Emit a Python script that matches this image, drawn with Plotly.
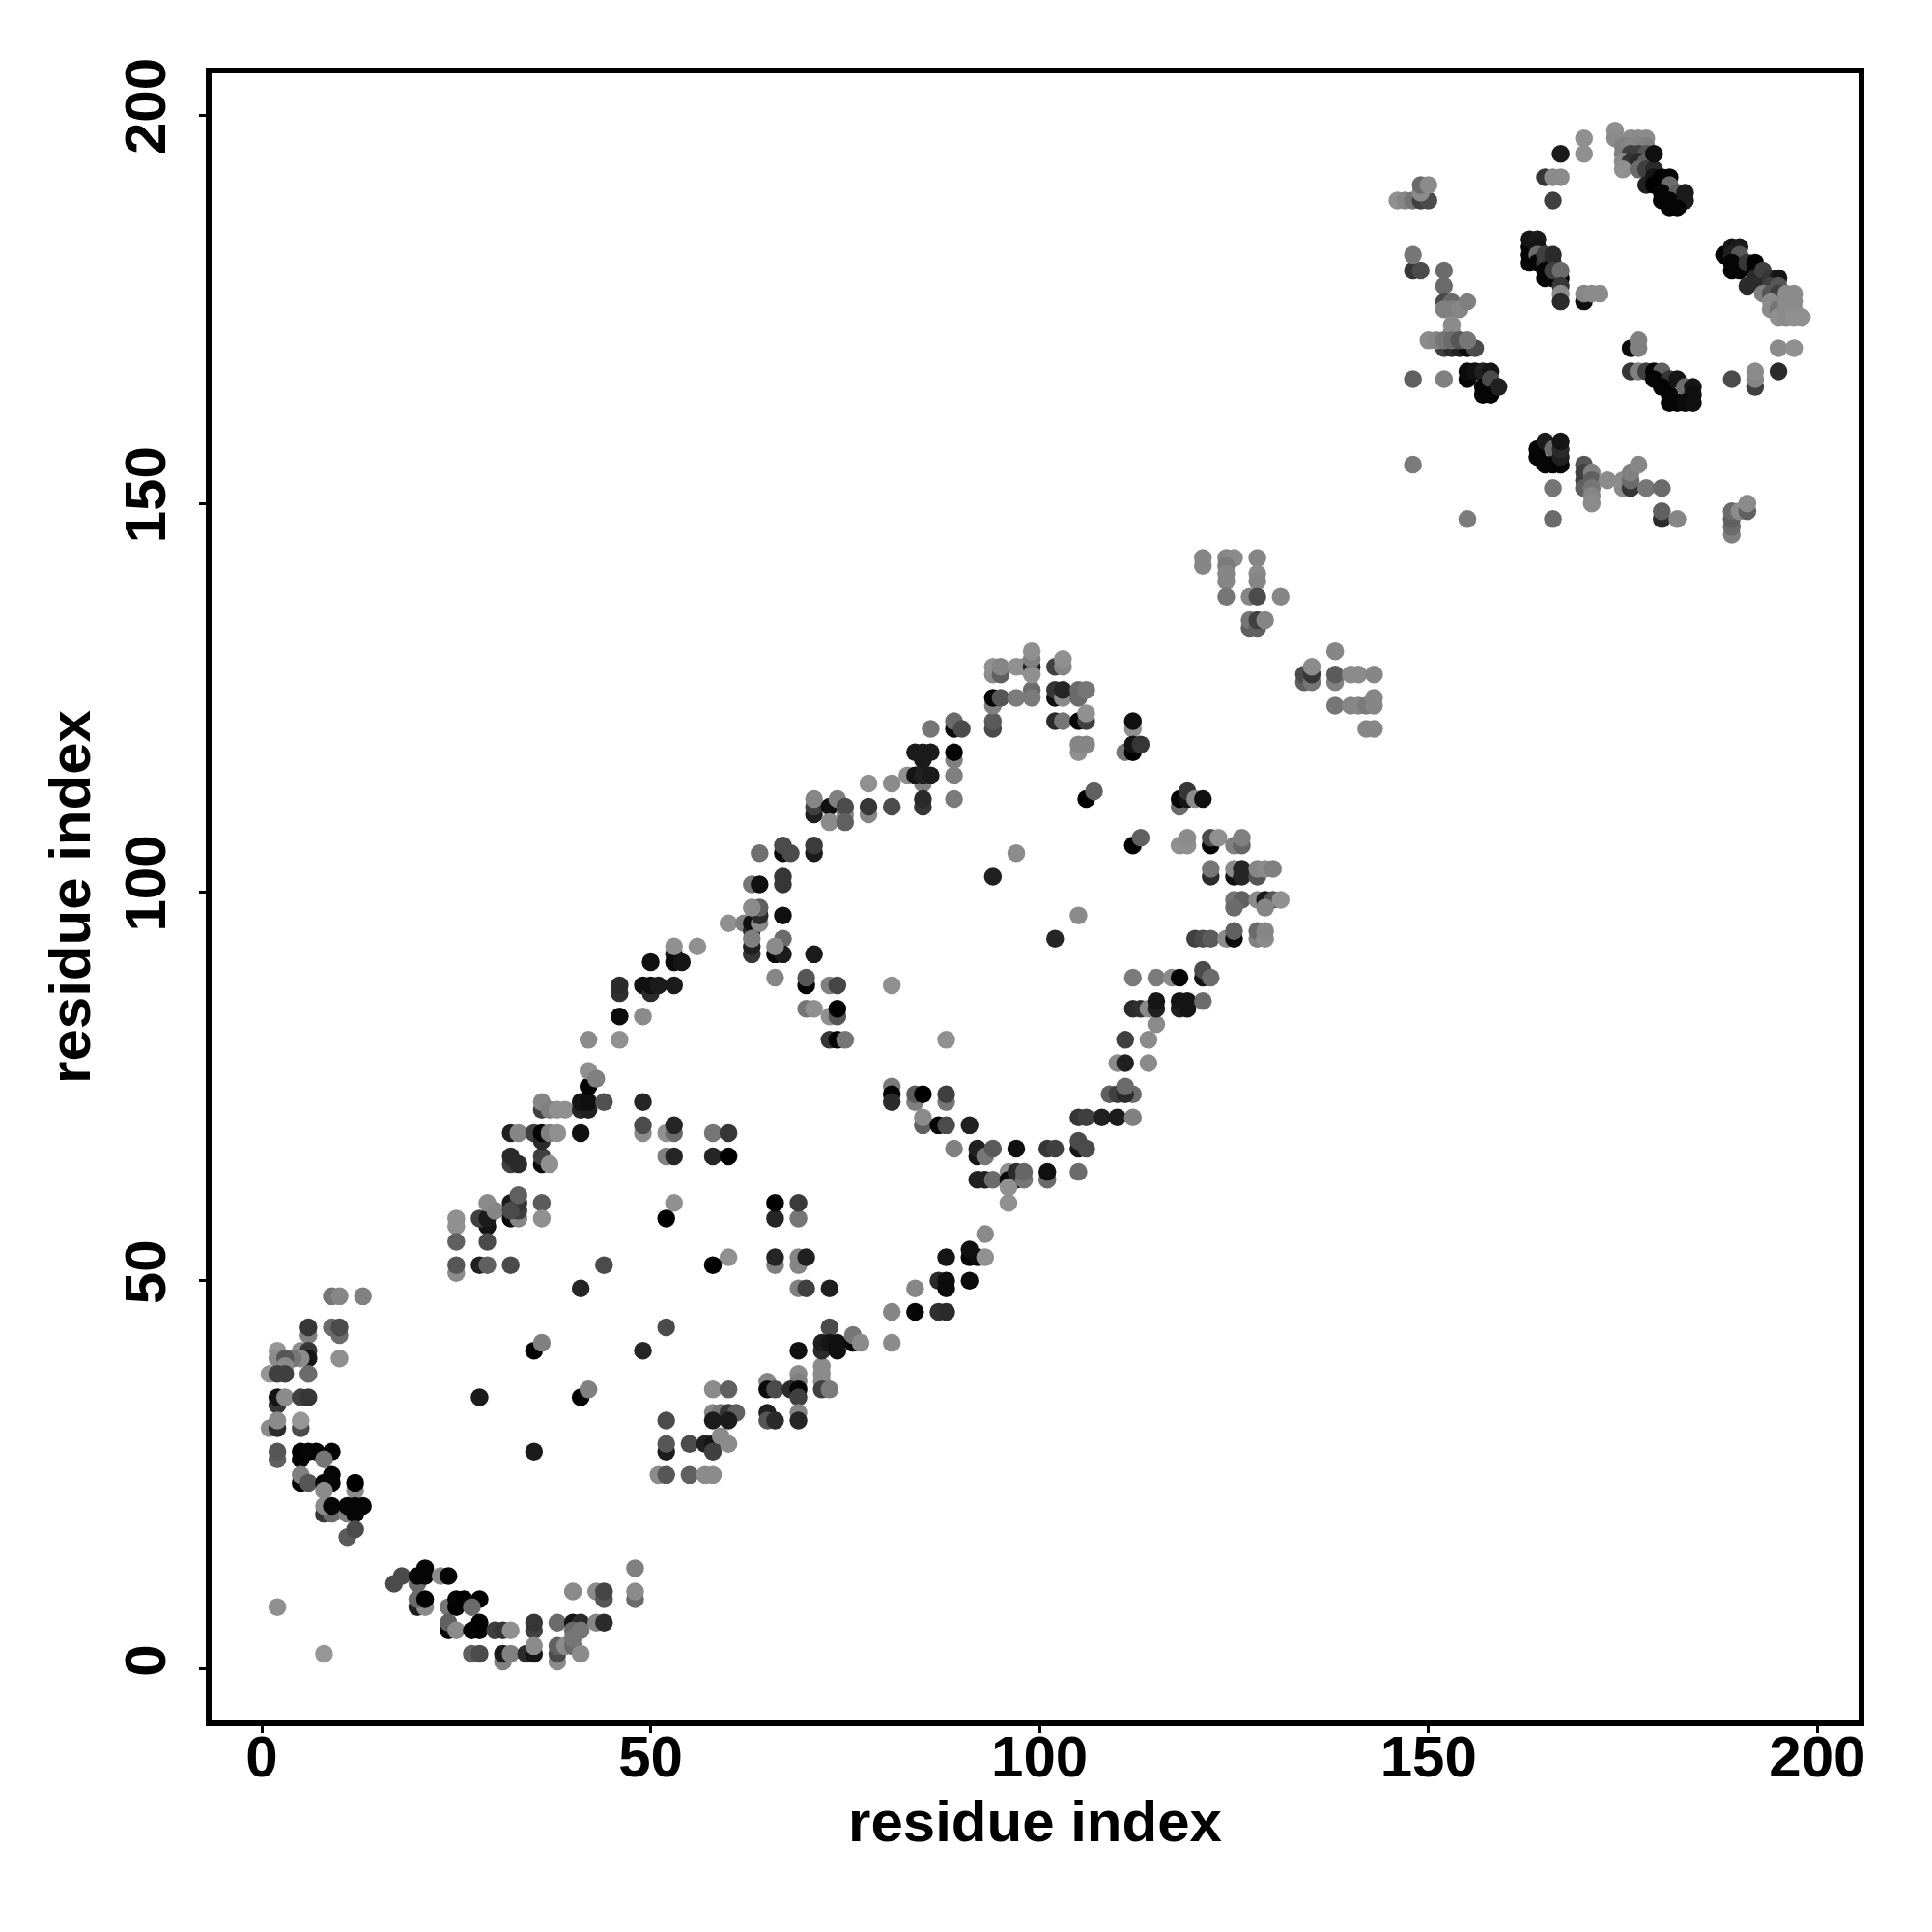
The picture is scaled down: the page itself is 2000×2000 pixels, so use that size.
import plotly.graph_objects as go

# (residue i, residue j, gray shade) contacts, grouped by region of the map
sheet_a = [(9,48,110),(10,48,125),(13,48,120),(6,43,120),(6,44,50),(10,43,100),(9,44,100),(10,44,70),
 (2,41,140),(5,41,135),(6,41,50),(6,40,20),(2,40,130),(5,40,130),(4,40,110),(3,40,80),(10,40,135),(3,39,130),
 (1,38,140),(2,38,60),(3,38,60),(6,38,100),(2,34,50),(2,35,20),(3,35,130),(5,35,60),(6,35,50),
 (1,31,130),(2,31,40),(5,31,70),(2,32,130),(5,32,140),(2,27,90),(2,28,80),(5,27,5),(5,28,0),(6,28,5),(7,28,5),(9,28,5),
 (8,27,110),(5,24,5),(5,25,120),(6,24,80),(8,24,5),(9,24,5),(9,25,5),(12,23,130),(12,24,0),(8,23,130),
 (8,20,50),(9,20,100),(11,20,120),(8,21,130),(9,21,5),(12,20,5),(12,21,5),(13,21,5),(11,21,5),(11,17,85),(12,18,70)]
sheet_b = [(17,11,70),(18,12,70),(20,11,100),(20,12,5),(21,12,5),(21,13,5),(23,12,130),(24,12,5),
 (20,8,30),(21,8,130),(20,9,100),(21,9,0),(24,8,110),(25,8,0),(25,9,5),(26,9,0),(28,9,0),(27,8,100),
 (24,5,5),(24,6,90),(25,5,130),(27,5,5),(28,5,5),(28,6,0),(30,5,60),(31,5,50),(32,5,135),
 (35,5,60),(35,6,50),(38,6,100),(40,6,20),(41,6,40),(40,5,100),(41,5,110),(43,6,125),(44,6,40),
 (43,10,130),(44,9,80),(44,10,65),(40,10,130),(48,9,100),(48,10,130),(48,13,120),(2,8,135),(8,2,140),
 (27,2,90),(28,2,70),(31,1,120),(31,2,25),(32,2,120),(34,2,40),(35,2,20),(35,3,130),
 (38,1,130),(38,2,70),(38,3,90),(39,3,130),(40,3,100),(41,2,130),(40,4,110)]
sheet_c = [(25,51,130),(25,52,80),(28,52,30),(29,52,90),(32,52,70),(44,52,70),(41,49,35),(52,44,70),(35,41,0),(36,42,120),
 (49,41,35),(28,35,25),(41,35,0),(42,36,120),(35,28,25),(52,32,70),(52,28,25),(52,29,80),(51,25,130),(52,25,80),
 (25,58,135),(25,57,135),(25,55,90),(29,57,20),(28,58,60),(29,58,25),(29,55,70),(29,60,130),(30,59,125),
 (32,58,10),(32,60,25),(33,58,125),(33,59,60),(33,60,50),(33,61,90),(32,59,70),(36,60,85),(36,58,135),
 (32,65,60),(33,65,40),(32,66,40),(36,65,10),(36,66,60),(37,65,135),
 (32,69,30),(33,69,125),(35,69,60),(36,68,40),(36,69,5),(37,69,120),(38,69,135),(41,69,15),
 (36,72,60),(36,73,125),(37,72,120),(38,72,135),(39,72,135),(41,72,35),(42,72,30),(41,73,20),(42,73,15),(44,73,75),
 (42,75,5),(42,77,135),(43,76,120),(42,81,130),(46,81,135),(46,84,10),(49,84,130),
 (46,87,45),(46,88,40),(49,88,15),(50,87,40),(50,88,15),(51,88,25),(53,88,25),(50,91,15),(53,92,30),(53,91,10),(54,91,20),(53,93,135),(56,93,135)]
sheet_d = [(49,69,130),(49,70,70),(49,73,35),(52,69,135),(53,69,100),(53,70,35),(52,66,120),(53,66,35),(58,69,110),(60,69,50),(58,66,35),(60,66,0),
 (53,60,135),(52,58,0),(66,58,35),(66,60,0),(69,58,110),(69,60,55),(66,52,120),(66,53,35),(69,52,125),(69,53,125),(70,53,30),
 (60,53,135),(58,52,0),(69,49,120),(70,49,60),(73,49,30),(73,44,70),
 (58,36,130),(60,36,90),(65,37,125),(65,36,10),(66,36,70),(69,38,130),(69,37,120),(68,36,40),(69,36,5),(69,35,60),
 (72,39,130),(72,38,130),(72,37,130),(72,36,60),(73,36,115),(69,41,15),(72,41,40),(72,42,30),(73,42,20),(74,42,15),(74,41,15),
 (76,42,5),(76,43,110),(77,42,130),(81,42,130),
 (58,33,125),(59,33,110),(60,33,50),(61,33,90),(58,32,25),(60,32,25),(65,33,30),(65,32,80),(66,32,40),(69,33,125),(69,32,35),
 (55,29,70),(57,29,30),(58,29,20),(59,30,130),(60,29,130),(58,28,60),(55,25,90),(57,25,130),(58,25,130),
 (81,46,125),(84,46,5),(87,46,45),(88,46,40),(84,49,125),(87,50,40),(88,50,15),(88,49,10),(91,50,10),
 (88,53,20),(91,53,5),(92,53,10),(91,54,15),(93,53,135),(93,56,130)]
sheet_e = [(81,75,115),(81,74,5),(81,73,40),(84,73,120),(84,74,85),(85,74,0),(88,73,110),(88,74,60),
 (85,70,90),(85,71,130),(87,70,5),(88,70,70),(91,70,30),(89,67,120),(92,66,20),(92,67,30),(93,66,110),(94,67,85),(97,67,15),
 (101,67,50),(102,67,60),(105,67,20),(105,68,70),(106,67,70),(92,63,30),(93,63,30),(94,63,100),(96,64,135),(96,63,10),(97,63,20),(97,64,40),(98,63,110),(98,64,95),
 (96,62,135),(96,60,135),(101,63,100),(101,64,15),(105,64,100),
 (105,71,50),(106,71,60),(108,71,30),(109,74,90),(110,74,60),(110,71,25),(112,71,120),(112,74,100),(111,74,40),(111,75,100),
 (110,78,130),(111,78,30),(114,78,130),(111,81,60),(114,81,130),(115,83,130),
 (112,85,40),(113,85,45),(114,85,130),(115,85,30),(115,86,20),(118,85,30),(118,86,20),(119,85,20),(119,86,20),(121,86,100),
 (112,89,115),(115,89,115),(117,89,130),(118,89,5),(121,89,20),(121,90,70),(122,89,100)]
sheet_f = [(60,96,135),(62,96,120),(63,95,40),(63,96,15),(64,96,130),(63,92,50),(63,93,30),(63,94,120),(67,94,100),
 (66,92,10),(67,92,25),(66,93,130),(71,92,25),(66,89,125),(70,88,5),(70,89,80),(73,88,120),(74,88,65),(81,88,135),
 (70,85,110),(71,85,135),(73,84,135),(74,84,80),(74,85,0),(73,81,50),(74,81,0),(75,81,110),(88,81,135),
 (64,97,40),(64,98,90),(63,98,130),(67,97,15),(63,101,110),(64,101,15),(67,101,50),(67,102,50),
 (64,105,105),(67,105,10),(67,106,70),(68,105,70),(71,105,25),(71,106,55),(71,110,30),(71,111,60),(71,112,125),
 (73,111,15),(74,112,120),(75,110,130),(75,111,70),(73,109,130),(75,109,90),(78,110,125),(78,111,50),(81,111,70),
 (78,114,135),(81,114,130),(83,115,135),(85,114,120),(84,115,20),(85,115,30),(86,115,25),(89,115,120),
 (85,111,50),(85,112,40),(89,112,115),(84,118,25),(85,117,25),(85,118,25),(86,118,25),(89,117,120),(89,118,5),
 (86,121,110),(89,121,10),(89,122,100),(90,121,70),(94,121,70),(94,122,85),(94,124,120),(94,125,5),(95,125,80),
 (97,125,115),(99,126,100),(99,125,115),(102,125,15),(102,126,50),(103,125,130),(103,126,35),
 (105,125,100),(105,126,100),(106,126,110),(102,122,40),(103,122,110),(105,122,5),(106,122,60),(106,123,135),
 (105,118,135),(105,119,125),(106,119,125),(94,128,130),(94,129,135),(95,128,90),(95,129,125),(97,129,135),(98,129,135),
 (99,129,30),(99,128,135),(99,130,120),(99,131,135),(102,129,60),(103,129,125),(103,130,135)]
sheet_g = [(106,112,0),(107,113,90),(94,102,30),(97,105,130),(102,94,35),(105,97,130),
 (112,121,135),(112,122,15),(111,118,110),(112,118,0),(112,119,20),(113,119,50),
 (118,111,100),(118,112,5),(119,112,20),(119,113,50),(120,112,130),(121,112,15),
 (112,106,0),(113,107,90),(118,106,135),(119,106,135),(119,107,130),(122,106,5),(122,107,70),(123,107,135),
 (125,106,120),(126,106,95),(126,107,120),(122,102,40),(122,103,110),(125,102,15),(125,103,130),(126,102,35),(126,103,35),
 (128,102,80),(128,103,125),(129,103,130),(130,103,120),(125,99,110),(126,99,90),(128,99,130),(129,99,25),(130,99,80),(131,99,135),
 (125,98,100),(129,98,125),(120,94,60),(121,94,70),(122,94,85),(124,94,130),(125,94,10),(125,95,90),(128,94,120),(128,95,100),(129,94,130),(129,95,125)]
sheet_h = [(121,142,125),(121,143,125),(124,143,125),(125,143,130),(124,142,115),(124,141,125),(124,140,125),(124,138,110),
 (128,143,125),(128,141,130),(128,140,125),(127,138,125),(128,138,70),(131,138,125),
 (127,134,90),(127,135,110),(128,134,90),(128,135,60),(129,135,125),
 (134,127,90),(134,128,70),(135,127,110),(135,128,50),(135,129,130),(138,131,125),(138,127,120),(138,128,85),
 (140,128,130),(141,128,130),(143,128,125),(138,124,110),(140,124,125),(141,124,125),(142,124,115),(143,124,125),(143,125,125),(142,121,125),(143,121,125)]
sheet_i = [(146,189,135),(147,189,125),(148,189,110),(149,189,60),(150,189,70),(149,190,130),(149,191,100),(150,191,130),
 (148,180,50),(149,180,70),(148,182,110),(152,180,100),(152,178,100),(152,176,70),(153,176,100),(152,175,120),(153,175,120),(154,175,125),(155,176,120),(153,173,130),(153,172,130),
 (152,170,60),(153,170,40),(154,170,30),(155,170,10),(156,170,70),(150,171,130),(151,171,125),(152,171,110),(153,171,100),(154,171,80),(155,171,110),
 (148,166,90),(152,166,120),(155,166,5),(155,167,10),(156,167,15),(157,167,30),(158,167,20),(157,165,5),(158,166,70),(157,164,5),(158,164,5),(159,165,30),
 (148,155,115),(155,148,115)]
sheet_j = [(170,197,135),(170,195,135),(167,195,25),(165,192,50),(166,192,130),(167,192,130),(166,189,60),
 (174,198,135),(174,197,130),(176,197,130),(177,197,130),(178,197,130),
 (175,196,120),(176,196,125),(177,196,125),(178,196,120),(175,195,120),(176,195,60),(177,195,60),(178,195,80),
 (175,194,130),(176,194,50),(177,194,40),(178,194,90),(175,193,135),(177,193,100),(178,193,60),(179,193,40),(179,195,15),
 (178,191,30),(179,192,20),(180,192,0),(181,192,5),(179,191,0),(180,191,0),(181,191,100),(180,190,5),(182,190,90),(183,190,25),(180,189,5),(181,189,5),(183,189,25),(182,188,5),(181,188,5),
 (163,181,5),(163,182,5),(163,183,5),(163,184,20),(164,184,25),(164,183,20),(164,182,100),(164,181,5),(165,181,50),(165,182,60),(166,181,40),(166,182,40),
 (165,180,5),(165,179,5),(166,179,5),(167,179,5),(166,180,60),(167,180,100),(167,178,50),(167,177,130),(167,176,40),(170,176,15),(170,177,125),(171,177,130),(172,177,130)]
sheet_k = [(176,170,10),(177,170,120),(177,171,120),(176,167,50),(177,167,120),(178,167,60),(179,167,5),(180,167,90),
 (179,166,5),(181,166,50),(182,166,20),(180,165,5),(181,164,5),(183,165,100),(184,165,20),(184,164,15),(181,163,5),(182,163,5),(183,163,10),(184,163,15),
 (189,166,70),(192,165,60),(192,166,125),(192,167,130),(195,167,40),(195,170,130),(197,170,135)]
sheet_l = [(188,182,5),(189,183,20),(190,183,25),(189,182,30),(190,182,80),(189,181,5),(189,180,5),(190,180,5),(191,181,50),(191,178,40),(192,181,0),(192,180,5),(192,179,40),
 (193,180,60),(193,178,40),(194,179,50),(195,179,20),(194,178,60),(195,178,80),(193,177,120),(194,177,80),(195,177,60),(194,176,130),
 (194,175,130),(195,175,110),(195,174,135),(196,177,130),(197,177,130),(196,176,130),(197,176,130),(196,175,130),(197,175,130),(196,174,130),(197,174,135),(198,174,135)]
sheet_m = [(164,156,5),(164,157,5),(165,158,25),(166,157,100),(165,155,5),(166,155,5),(167,155,5),(167,156,30),(167,157,40),(167,158,20),
 (170,155,80),(170,154,60),(170,153,60),(170,152,90),(171,154,120),(171,153,90),(171,152,110),(171,151,125),(171,150,130),
 (173,153,130),(175,152,130),(175,153,130),(176,152,50),(176,153,100),(176,154,120),(177,155,125),(178,152,110),(180,152,100),(166,152,110),
 (180,148,40),(180,149,90),(182,148,125),(166,148,100),(189,146,120),(189,147,100),(189,148,90),(189,149,100),(190,149,130),(191,149,90),(191,150,130)]

contact_regions = [sheet_a, sheet_b, sheet_c, sheet_d, sheet_e, sheet_f, sheet_g, sheet_h, sheet_i, sheet_j, sheet_k, sheet_l, sheet_m]
tick_values = [0, 50, 100, 150, 200]
axis_label = "residue index"

points = [p for region in contact_regions for p in region]
shades = [round(p[2] * 1.07) for p in points]
fig = go.Figure(go.Scatter(
    x=[p[0] for p in points], y=[p[1] for p in points], mode="markers",
    marker=dict(size=18.5, color=[f"rgb({s},{s},{s})" for s in shades], line=dict(width=0)),
    hoverinfo="skip"))

tick_font = dict(family="Liberation Sans", color="black", size=60, weight="bold")
title_font = dict(family="Liberation Sans", color="black", size=60, weight="bold")
axis = dict(showgrid=False, zeroline=False, showline=True, mirror=True, linecolor="black", linewidth=6,
            ticks="outside", ticklen=7, tickwidth=3, tickcolor="black", tickvals=tick_values,
            tickfont=tick_font, title=dict(text=axis_label, font=title_font))
fig.update_layout(width=2000, height=2000, margin=dict(l=219, r=76, t=76, b=219, pad=0, autoexpand=False),
                  paper_bgcolor="white", plot_bgcolor="white", showlegend=False)
fig.update_xaxes(range=[-6.46, 205.3], ticklabelstandoff=-27, **axis)
fig.update_yaxes(range=[-6.59, 205.35], tickangle=-90, ticklabelstandoff=11, ticksuffix="\u00a0", **axis)
fig.layout.xaxis.title.standoff = 14
fig.layout.yaxis.title.standoff = 6
fig.write_html("out.html", post_script="document.body.style.margin='0';", config=dict(displayModeBar=False))
